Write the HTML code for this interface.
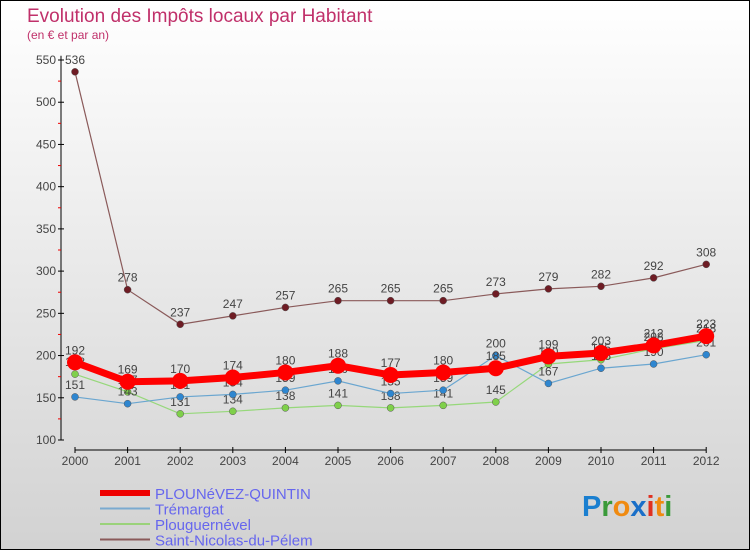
<!DOCTYPE html>
<html><head><meta charset="utf-8"><style>
body{margin:0}
#c{position:relative;width:750px;height:550px;box-sizing:border-box;border:1px solid #000;background:linear-gradient(#fff,#d2d2d2);font-family:"Liberation Sans",sans-serif;overflow:hidden}
</style></head><body>
<div id="c">
<svg width="750" height="550" style="position:absolute;left:-1px;top:-1px">
<text x="27" y="22" font-size="19" fill="#c0306a">Evolution des Impôts locaux par Habitant</text>
<text x="27" y="39" font-size="12" fill="#c0306a">(en € et par an)</text>
<g id="axes"></g><g id="series"></g><g id="legend"></g>
<text x="582" y="516" font-size="29" font-weight="bold"><tspan fill="#1a7fd0">P</tspan><tspan fill="#3a9a3a">r</tspan><tspan fill="#f08a10">o</tspan><tspan fill="#1a6fc8">x</tspan><tspan fill="#e03020">i</tspan><tspan fill="#f08a10">t</tspan><tspan fill="#3a9a3a">i</tspan></text>
</svg>
</div>
<script>
const years=[2000,2001,2002,2003,2004,2005,2006,2007,2008,2009,2010,2011,2012];
const yTicks=[100,150,200,250,300,350,400,450,500,550];
const plounevez=[192,169,170,174,180,188,177,180,185,199,203,212,223];
const tremargat=[151,143,151,154,159,170,155,159,200,167,185,190,201];
const plouguernevel=[178,157,131,134,138,141,138,141,145,190,195,208,218];
const saintNicolas=[536,278,237,247,257,265,265,265,273,279,282,292,308];
const names=["PLOUNéVEZ-QUINTIN","Trémargat","Plouguernével","Saint-Nicolas-du-Pélem"];
const NS="http://www.w3.org/2000/svg";
function X(i){return 75+i*52.6;}
function Y(v){return 440-(v-100)*(380/450);}
function mk(t,a,p){const e=document.createElementNS(NS,t);for(const k in a)e.setAttribute(k,a[k]);p.appendChild(e);return e;}
const ax=document.getElementById('axes');
let l=mk('line',{x1:61,y1:Y(555),x2:61,y2:Y(100),stroke:'#000'},ax);


yTicks.forEach(v=>{mk('line',{x1:58,x2:64,y1:Y(v),y2:Y(v),stroke:'#000'},ax);
 if(v<550)mk('line',{x1:58,x2:61,y1:Y(v+25),y2:Y(v+25),stroke:'#e00'},ax);
 const t=mk('text',{x:56,y:Y(v)+4,'font-size':12,fill:'#444','text-anchor':'end'},ax);t.textContent=v;
 
 });
l=mk('line',{x1:X(0),y1:450,x2:X(12),y2:450,stroke:'#000'},ax);


years.forEach((y,i)=>{mk('line',{x1:X(i),x2:X(i),y1:447,y2:453,stroke:'#000'},ax);
 const t=mk('text',{x:X(i),y:465,'font-size':12,fill:'#444','text-anchor':'middle'},ax);t.textContent=y;
 
 });
const sg=document.getElementById('series');
const defs=[[saintNicolas,'#6e1c24','#8a5a5a',1.2,3.5],[plouguernevel,'#7fd04a','#96d87a',1.2,3.5],[tremargat,'#2e86d0','#6aa6d0',1.2,3.5],[plounevez,'#f00','#f00',7,8]];
const keys=['saint-nicolas','plouguernevel','tremargat','plounevez'];
defs.forEach((d,k)=>{const g=mk('g',{},sg);
 
 
 const p=mk('polyline',{points:d[0].map((v,i)=>X(i)+','+Y(v)).join(' '),fill:'none',stroke:d[2],'stroke-width':d[3]},g);
 
 
 d[0].forEach((v,i)=>{const c=mk('circle',{cx:X(i),cy:Y(v),r:d[4],fill:d[1],stroke:k==3?'none':'#555','stroke-width':0.5},g);
  
  
  const t=mk('text',{x:X(i),y:Y(v)-8,'font-size':12,fill:'#444','text-anchor':'middle'},g);t.textContent=v;
  
  });});
const lg=document.getElementById('legend');
const lc=['#e00','#7aaad0','#9ad27a','#8a5a5a'],lw=[6,2,2,2];
names.forEach((n,i)=>{const y=493+i*15.5;
 const ln=mk('line',{x1:100,x2:150,y1:y,y2:y,stroke:lc[i],'stroke-width':lw[i]},lg);
 
 
 const t=mk('text',{x:155,y:y+6,'font-size':15,fill:'#6666ee'},lg);t.textContent=n;
 
 });
</script>
</body></html>
